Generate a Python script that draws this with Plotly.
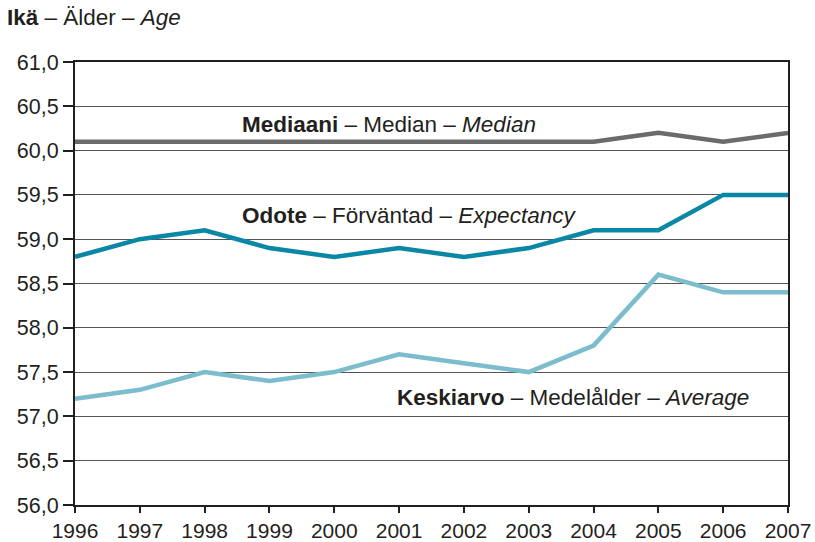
import plotly.graph_objects as go

years = [1996, 1997, 1998, 1999, 2000, 2001, 2002, 2003, 2004, 2005, 2006, 2007]
median = [60.1, 60.1, 60.1, 60.1, 60.1, 60.1, 60.1, 60.1, 60.1, 60.2, 60.1, 60.2]
odote = [58.8, 59.0, 59.1, 58.9, 58.8, 58.9, 58.8, 58.9, 59.1, 59.1, 59.5, 59.5]
keskiarvo = [57.2, 57.3, 57.5, 57.4, 57.5, 57.7, 57.6, 57.5, 57.8, 58.6, 58.4, 58.4]
y_ticks = [56.0, 56.5, 57.0, 57.5, 58.0, 58.5, 59.0, 59.5, 60.0, 60.5, 61.0]
y_labels = [f"{v:.1f}".replace(".", ",") for v in y_ticks]
x_labels = [str(y) for y in years]

FONT = "Liberation Sans, Arial, sans-serif"
TXT = "#231f20"

fig = go.Figure()
fig.add_trace(go.Scatter(x=years, y=median, mode="lines",
                         line=dict(color="#6b6b6b", width=4.5), hoverinfo="skip"))
fig.add_trace(go.Scatter(x=years, y=odote, mode="lines",
                         line=dict(color="#0a87a4", width=4.5), hoverinfo="skip"))
fig.add_trace(go.Scatter(x=years, y=keskiarvo, mode="lines",
                         line=dict(color="#7bbccd", width=4.5), hoverinfo="skip"))

fig.update_layout(
    width=815, height=542,
    margin=dict(l=75, r=27, t=62, b=37),
    plot_bgcolor="white", paper_bgcolor="white",
    showlegend=False,
    font=dict(family=FONT, size=21, color=TXT),
)
fig.update_xaxes(
    range=[1996, 2007], tickvals=years, ticktext=x_labels,
    showgrid=False, zeroline=False, automargin=False,
    showline=True, linecolor="#231f20", linewidth=2, mirror=True,
    ticks="outside", ticklen=6, tickwidth=2, tickcolor="#231f20",
    tickfont=dict(family=FONT, size=21, color=TXT),
)
fig.update_yaxes(
    range=[56, 61], tickvals=y_ticks, ticktext=y_labels,
    showgrid=True, gridcolor="#555555", gridwidth=1, zeroline=False, automargin=False,
    showline=True, linecolor="#231f20", linewidth=2, mirror=True,
    ticks="outside", ticklen=10, tickwidth=2, tickcolor="#231f20",
    tickfont=dict(family=FONT, size=21.5, color=TXT),
)

fig.add_annotation(xref="paper", yref="paper", x=-70/713, y=1.0, yshift=45,
                   xanchor="left", yanchor="middle", showarrow=False,
                   text="<b>Ikä</b> – Älder – <i>Age</i>",
                   font=dict(family=FONT, size=22.5, color=TXT))
fig.add_annotation(x=1998.55, y=60.29, xanchor="left", yanchor="middle", showarrow=False,
                   text="<b>Mediaani</b> – Median – <i>Median</i>",
                   font=dict(family=FONT, size=22.5, color=TXT))
fig.add_annotation(x=1998.55, y=59.27, xanchor="left", yanchor="middle", showarrow=False,
                   text="<b>Odote</b> – Förväntad – <i>Expectancy</i>",
                   font=dict(family=FONT, size=22.5, color=TXT))
fig.add_annotation(x=2000.94, y=57.21, xanchor="left", yanchor="middle", showarrow=False,
                   text="<b>Keskiarvo</b> – Medelålder – <i>Average</i>",
                   font=dict(family=FONT, size=22.5, color=TXT))

fig.write_html("out.html", config={"displayModeBar": False},
               post_script="document.body.style.margin='0';document.body.style.overflow='hidden';")
